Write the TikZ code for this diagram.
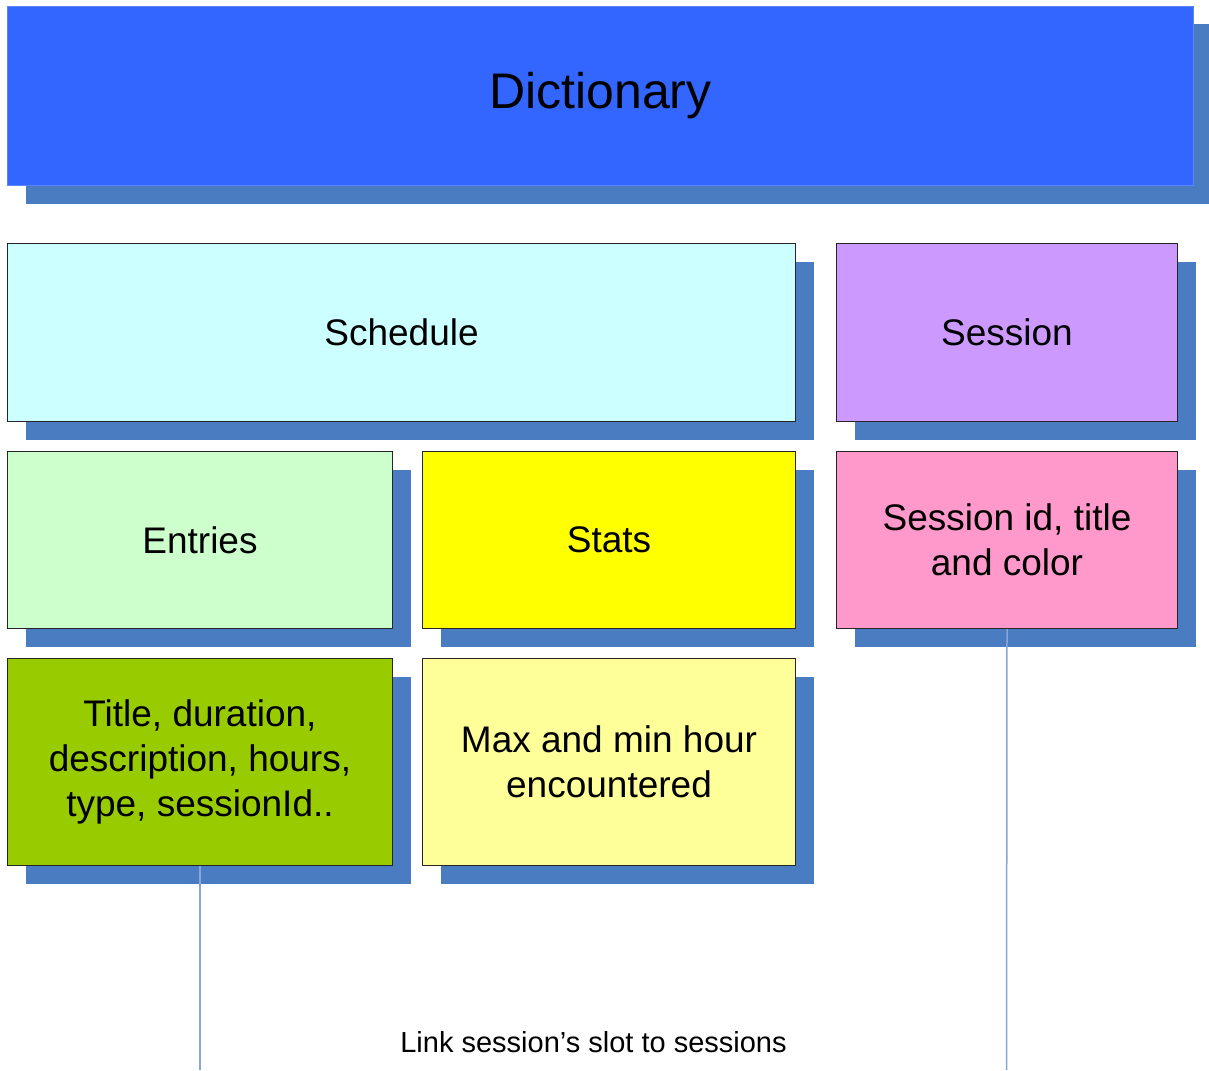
\documentclass[tikz,border=0pt]{standalone}
\usepackage{fontspec}
\setmainfont{Liberation Sans}
\usetikzlibrary{shadows}
\definecolor{shadowblue}{HTML}{4A7CC2}
\definecolor{dictblue}{HTML}{3366FF}
\definecolor{dictedge}{HTML}{5C85FF}
\definecolor{linkblue}{HTML}{86A6DA}
\definecolor{cSchedule}{HTML}{CCFFFF}
\definecolor{cSession}{HTML}{CC99FF}
\definecolor{cEntries}{HTML}{CCFFCC}
\definecolor{cStats}{HTML}{FFFF00}
\definecolor{cSessInfo}{HTML}{FF99CC}
\definecolor{cTitle}{HTML}{99CC00}
\definecolor{cMax}{HTML}{FFFF99}
\tikzset{
  boxstyle/.style={draw=black!85, line width=1pt, anchor=north west, inner sep=0pt,
    align=center, font=\fontsize{37}{45}\selectfont,
    drop shadow={shadow xshift=18pt, shadow yshift=-18pt, fill=shadowblue, opacity=1}},
  linkline/.style={draw=linkblue, line width=1.5pt}
}
\begin{document}
\begin{tikzpicture}[x=1pt,y=-1pt]
\useasboundingbox (0,0) rectangle (1209,1070);
% Dictionary
\node[boxstyle, draw=dictedge, fill=dictblue, minimum width=1186pt, minimum height=179pt,
  font=\fontsize{50}{60}\selectfont] (dict) at (7,6) {Dictionary};
\node[boxstyle, fill=cSchedule, minimum width=788pt, minimum height=178pt] (schedule) at (7,243) {Schedule};
\node[boxstyle, fill=cSession, minimum width=341pt, minimum height=178pt] (session) at (836,243) {Session};
\node[boxstyle, fill=cEntries, minimum width=385pt, minimum height=177pt] (entries) at (7,451) {Entries};
\node[boxstyle, fill=cStats, minimum width=373pt, minimum height=177pt] (stats) at (422,451) {Stats};
\node[boxstyle, fill=cSessInfo, minimum width=341pt, minimum height=177pt] (sessinfo) at (836,451) {Session id, title\\and color};
\node[boxstyle, fill=cTitle, minimum width=385pt, minimum height=207pt] (title) at (7,658) {Title, duration,\\description, hours,\\type, sessionId..};
\node[boxstyle, fill=cMax, minimum width=373pt, minimum height=207pt] (maxmin) at (422,658) {Max and min hour\\encountered};
% links
\coordinate (leftend) at (200,1070);
\coordinate (rightend) at (1006.5,1070);
\draw[linkline] (title.south) -- (leftend);
\draw[linkline] (sessinfo.south) -- (rightend);
\node[font=\fontsize{29}{34}\selectfont, inner sep=0pt] (linklabel) at (593.5,1042) {Link session’s slot to sessions};
\end{tikzpicture}
\end{document}
